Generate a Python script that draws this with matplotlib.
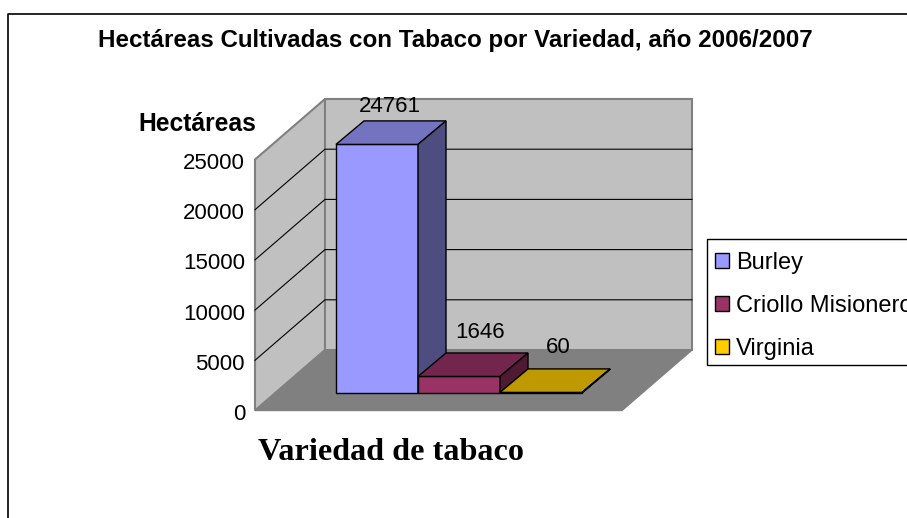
import matplotlib
matplotlib.use('Agg')
import matplotlib.pyplot as plt
from matplotlib.patches import Patch, Polygon, Rectangle

# Data
varieties = ['Burley', 'Criollo Misionero', 'Virginia']
hectares = [24761, 1646, 60]
y_ticks = [0, 5000, 10000, 15000, 20000, 25000]
title = 'Hectáreas Cultivadas con Tabaco por Variedad, año 2006/2007'
y_title = 'Hectáreas'
x_title = 'Variedad de tabaco'

colors = {'Burley': ('#9999ff', '#7373bf', '#4d4d80'),
          'Criollo Misionero': ('#993366', '#73264d', '#4d1933'),
          'Virginia': ('#ffcc00', '#bf9900', '#806600')}
wall = '#c0c0c0'
floor = '#808080'

plt.rcParams['font.family'] = ['Liberation Sans', 'DejaVu Sans']

# Fake 3D layout in pixels
x0, x1 = 255, 622
y0 = 410.5
dx, dy = 70, -60.5
px_per_unit = 251 / 25000
bar_left, bar_w = 336, 82
bar_dx, bar_dy = 28, -23.5
bar_y0 = 393
label_dx = [-15, -7, -11]
label_dy = [-14, -20, -21]


def val_y(v, base):
    return base - v * px_per_unit


def poly(ax, pts, face, edge='black', lw=1.0, z=2):
    ax.add_patch(Polygon(pts, closed=True, facecolor=face, edgecolor=edge, linewidth=lw, zorder=z, joinstyle='miter'))


fig = plt.figure(figsize=(9.07, 5.18), dpi=100)
ax = fig.add_axes([0, 0, 1, 1])
ax.set_xlim(0, 907)
ax.set_ylim(518, 0)
ax.axis('off')

# outer chart frame, only top and left are visible in the crop
ax.plot([8, 8, 907], [518, 14, 14], color='black', linewidth=1.2)

# walls and floor
top = val_y(y_ticks[-1], y0)
poly(ax, [(x0, y0), (x0 + dx, y0 + dy), (x0 + dx, top + dy), (x0, top)], wall, floor, 1.5, 1)
poly(ax, [(x0 + dx, y0 + dy), (x1 + dx, y0 + dy), (x1 + dx, top + dy), (x0 + dx, top + dy)], wall, floor, 1.5, 1)
poly(ax, [(x0, y0), (x1, y0), (x1 + dx, y0 + dy), (x0 + dx, y0 + dy)], floor, floor, 1.0, 1)

# grid lines and tick labels
for t in y_ticks:
    y = val_y(t, y0)
    if 0 < t < y_ticks[-1]:
        ax.plot([x0, x0 + dx, x1 + dx], [y, y + dy, y + dy], color='black', linewidth=0.8, zorder=1.5)
    ax.text(245, y + 4, str(t), ha='right', va='center', fontsize=16, color='black')

# bars, back to front does not matter here since they sit side by side
for i, name in enumerate(varieties):
    val = hectares[i]
    front, side, dark = colors[name]
    left = bar_left + i * bar_w
    right = left + bar_w
    ytop = val_y(val, bar_y0)
    poly(ax, [(left, bar_y0), (right, bar_y0), (right, ytop), (left, ytop)], front, z=3 + i)
    poly(ax, [(left, ytop), (right, ytop), (right + bar_dx, ytop + bar_dy), (left + bar_dx, ytop + bar_dy)], side, z=3 + i)
    poly(ax, [(right, bar_y0), (right + bar_dx, bar_y0 + bar_dy), (right + bar_dx, ytop + bar_dy), (right, ytop)], dark, z=3 + i)
    ax.text(left + bar_w / 2 + bar_dx + label_dx[i], ytop + bar_dy + label_dy[i], str(val),
            ha='center', va='center', fontsize=16, color='black', zorder=10)

ax.text(455, 40, title, ha='center', va='center', fontsize=17.4, fontweight='bold')
ax.text(197, 124, y_title, ha='center', va='center', fontsize=17.7, fontweight='bold')
ax.text(391, 452.5, x_title, ha='center', va='center', fontsize=23.2, fontweight='bold', family='Liberation Serif')

# legend box runs past the right edge like in the original
ax.add_patch(Rectangle((707, 239), 220, 126, facecolor='white', edgecolor='black', linewidth=1.0, zorder=11))
handles = [Patch(facecolor=colors[n][0], edgecolor='black', linewidth=1.0, label=n) for n in varieties]
leg = ax.legend(handles=handles, loc='upper left', bbox_to_anchor=(715, 252), bbox_transform=ax.transData,
                borderaxespad=0, fontsize=17, frameon=False,
                handlelength=0.6, handleheight=0.6, handletextpad=0.3, labelspacing=0.88,
                borderpad=0)
leg.set_zorder(12)

fig.savefig('out.png', dpi=100)
